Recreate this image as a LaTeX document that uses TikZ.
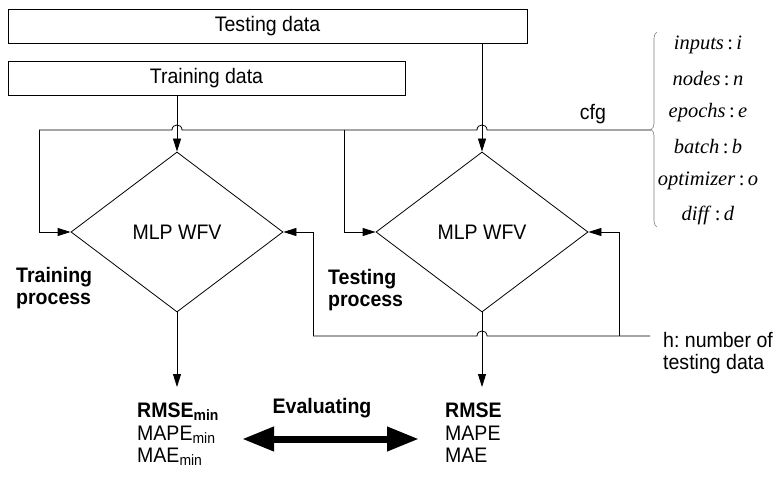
\documentclass[tikz,border=0pt]{standalone}
\usepackage{fontspec}
\setmainfont{Liberation Sans}[FakeStretch=0.93]
\newfontfamily\serifit{Liberation Serif}
\usetikzlibrary{shapes.geometric,arrows.meta,decorations.pathreplacing,calc}
\newcommand\subm[1]{\raisebox{-3pt}{\fontsize{15}{15}\selectfont #1}}
\frenchspacing
\begin{document}
\begin{tikzpicture}[x=1pt,y=-1pt,
  box/.style={draw, line width=0.8pt, minimum height=34pt, inner sep=0pt, font=\fontsize{21}{23}\selectfont},
  dia/.style={diamond, draw, line width=0.8pt, minimum width=212pt, minimum height=160pt, inner sep=0pt, font=\fontsize{21}{23}\selectfont},
  ln/.style={line width=0.8pt},
  arr/.style={ln, -{Triangle[length=13pt,width=8pt]}},
  lbl/.style={font=\fontsize{21}{22.5}\selectfont, inner sep=0pt, align=left},
  blbl/.style={font=\fontsize{21}{22.5}\selectfont\bfseries, inner sep=0pt, align=left},
  cfgitem/.style={font=\serifit\fontsize{20.5}{22}\selectfont, inner sep=0pt},
  big/.style={line width=7pt, {Triangle[length=32pt,width=23pt]}-{Triangle[length=32pt,width=23pt]}},
]
\useasboundingbox (0,0) rectangle (779,478);
\node[box, minimum width=519pt] (test) at (267.5,26) {Testing data};
\node[box, minimum width=397pt] (train) at (206.5,78) {Training data};
\node[dia] (d1) at (177,232) {MLP WFV};
\node[dia] (d2) at (482,232) {MLP WFV};

\coordinate (cL) at (39,130);
\coordinate (cM) at (344,130);
\coordinate (cR) at (651,130);
\coordinate (x1) at (d1.north |- cL);
\coordinate (x2) at (d2.north |- cL);
\coordinate (hL) at (313,336);
\coordinate (hM) at (619,336);
\coordinate (hR) at (650,336);
\coordinate (y2) at (d2.south |- hL);
\coordinate (o1) at (177,387);
\coordinate (o2) at (482,387);
\coordinate (eL) at (242,439);
\coordinate (eR) at (419,439);

% data arrows
\draw[arr] (train.south -| d1.north) -- (d1.north);
\draw[arr] (test.south -| d2.north) -- (d2.north);
% cfg line with hops
\draw[ln] (cR) -- ($(x2)+(5,0)$) .. controls ($(x2)+(5,-6.7)$) and ($(x2)+(-5,-6.7)$) .. ($(x2)+(-5,0)$)
  -- ($(x1)+(5,0)$) .. controls ($(x1)+(5,-6.7)$) and ($(x1)+(-5,-6.7)$) .. ($(x1)+(-5,0)$) -- (cL);
\draw[arr] (cL) |- (d1.west);
\draw[arr] (cM) |- (d2.west);
% feedback line with hop
\draw[ln] (hL) -- ($(y2)+(-5,0)$) .. controls ($(y2)+(-5,-6.7)$) and ($(y2)+(5,-6.7)$) .. ($(y2)+(5,0)$) -- (hR);
\draw[arr] (hL) |- (d1.east);
\draw[arr] (hM) |- (d2.east);
% outputs
\draw[arr] (d1.south) -- (o1);
\draw[arr] (d2.south) -- (o2);
\draw[big] (eL) -- (eR);

% labels
\node[lbl, anchor=south] (cfg) at (593,124) {cfg};
\draw[gray, line width=0.6pt, decorate, decoration={brace, amplitude=6pt}] (657,227) -- (657,32);
\node[cfgitem] (p1) at (708,45) {\textit{inputs}\,:\,\textit{i}};
\node[cfgitem] (p2) at (708,79) {\textit{nodes}\,:\,\textit{n}};
\node[cfgitem] (p3) at (708,113) {\textit{epochs}\,:\,\textit{e}};
\node[cfgitem] (p4) at (708,147) {\textit{batch}\,:\,\textit{b}};
\node[cfgitem] (p5) at (708,181) {\textit{optimizer}\,:\,\textit{o}};
\node[cfgitem] (p6) at (708,215) {\textit{diff}\,:\,\textit{d}};

\node[blbl, anchor=west] (trp) at (16,288) {Training\\process};
\node[blbl, anchor=west] (tep) at (328,290) {Testing\\process};
\node[lbl, anchor=west] (hlab) at (663,353) {h: number of\\testing data};

\node[blbl, anchor=base west] (r1) at (137,417) {RMSE\subm{min}};
\node[lbl, anchor=base west] (r2) at (137,440) {MAPE\subm{min}};
\node[lbl, anchor=base west] (r3) at (137,462) {MAE\subm{min}};
\node[blbl, anchor=base] (ev) at (322,413) {Evaluating};
\node[blbl, anchor=base west] (s1) at (445,417) {RMSE};
\node[lbl, anchor=base west] (s2) at (445,440) {MAPE};
\node[lbl, anchor=base west] (s3) at (445,462) {MAE};
\end{tikzpicture}
\end{document}
